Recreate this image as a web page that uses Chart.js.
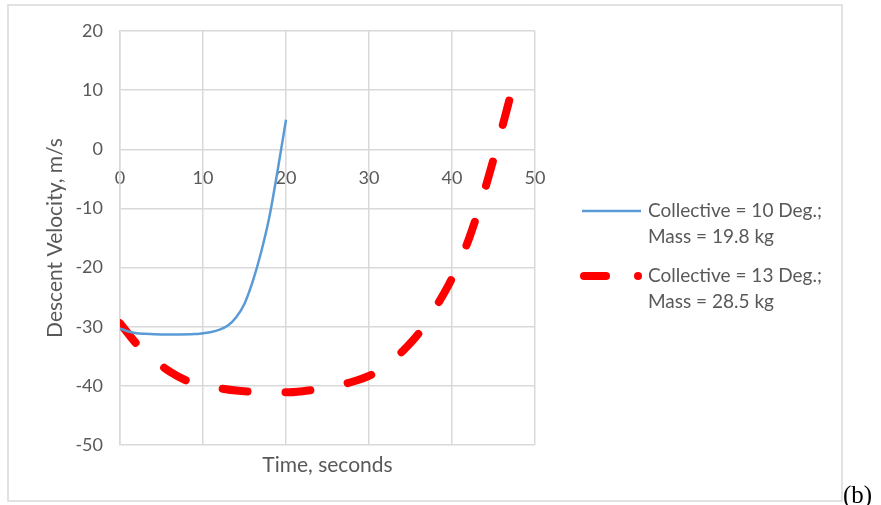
<!DOCTYPE html>
<html>
<head>
<meta charset="utf-8">
<script src="https://cdn.jsdelivr.net/npm/chart.js@4/dist/chart.umd.min.js"></script>
<style>
  html, body { margin: 0; padding: 0; background: #fff; }
  #wrap { width: 881px; height: 505px; }
</style>
</head>
<body>
<div id="wrap"><canvas id="chart" width="881" height="505"></canvas></div>
<script>
// Collective = 10 Deg.; Mass = 19.8 kg
const timeBlue = [0, 1, 2, 3, 5, 7, 9, 10, 11, 12, 13, 14, 15, 16, 17, 18, 19, 20];
const velBlue = [-30.3, -30.8, -31.1, -31.2, -31.3, -31.3, -31.25, -31.1, -30.9, -30.5, -29.8, -28.4, -26.1, -22.3, -17.4, -11.4, -3.5, 5.0];

// Collective = 13 Deg.; Mass = 28.5 kg
const timeRed = [0, 2, 4, 6, 8, 10, 12, 14, 16, 18, 20, 22, 24, 26, 28, 30, 32, 34, 36, 38, 40, 42, 44, 46, 47];
const velRed = [-29.4, -32.9, -35.5, -37.6, -39.1, -39.9, -40.4, -40.8, -41.0, -41.1, -41.1, -40.9, -40.5, -40.0, -39.3, -38.3, -36.8, -34.2, -31.1, -26.8, -21.8, -15.3, -6.6, 3.5, 8.8];

const seriesNames = [
    ['Collective = 10 Deg.;', 'Mass = 19.8 kg'],
    ['Collective = 13 Deg.;', 'Mass = 28.5 kg']
];

const xTitle = 'Time, seconds';
const yTitle = 'Descent Velocity, m/s';

const toPoints = (xs, ys) => xs.map((x, i) => ({ x: x, y: ys[i] }));

const textColor = '#595959';
const gridColor = '#d9d9d9';
const font = { family: 'Lato', size: 18 };

// titles, legend, frame and the (b) label
const extras = {
    id: 'extras',
    afterDraw(chart) {
        const ctx = chart.ctx;
        const area = chart.chartArea;
        ctx.save();

        // outer chart frame
        ctx.strokeStyle = gridColor;
        ctx.lineWidth = 1.5;
        ctx.strokeRect(8, 5, 834, 496);

        ctx.fillStyle = textColor;
        ctx.font = '21px Lato';
        ctx.textAlign = 'center';
        ctx.textBaseline = 'middle';
        ctx.fillText(xTitle, (area.left + area.right) / 2, 465);

        ctx.save();
        ctx.translate(55, (area.top + area.bottom) / 2);
        ctx.rotate(-Math.PI / 2);
        ctx.fillText(yTitle, 0, 0);
        ctx.restore();

        // legend
        const ds = chart.data.datasets;
        ctx.font = '19px Lato';
        ctx.textAlign = 'left';
        const rows = [211, 276];
        ds.forEach((d, i) => {
            const y = rows[i];
            ctx.strokeStyle = d.borderColor;
            ctx.fillStyle = d.borderColor;
            ctx.lineWidth = d.borderWidth;
            ctx.lineCap = d.borderCapStyle || 'butt';
            if (d.borderDash && d.borderDash.length) {
                ctx.beginPath();
                ctx.moveTo(584, y);
                ctx.lineTo(606, y);
                ctx.stroke();
                ctx.beginPath();
                ctx.arc(638, y, d.borderWidth / 2, 0, Math.PI * 2);
                ctx.fill();
            } else {
                ctx.beginPath();
                ctx.moveTo(582, y);
                ctx.lineTo(641, y);
                ctx.stroke();
            }
            ctx.fillStyle = textColor;
            seriesNames[i].forEach((line, j) => ctx.fillText(line, 648, y + j * 25.5));
        });

        ctx.font = '25px "Liberation Serif"';
        ctx.fillStyle = '#000';
        ctx.textBaseline = 'alphabetic';
        ctx.fillText('(b)', 843, 503);
        ctx.restore();
    }
};

new Chart(document.getElementById('chart'), {
    type: 'scatter',
    data: {
        datasets: [{
            label: seriesNames[0].join(' '),
            data: toPoints(timeBlue, velBlue),
            showLine: true,
            borderColor: '#5b9bd5',
            borderWidth: 2.5,
            pointRadius: 0,
            cubicInterpolationMode: 'monotone'
        }, {
            label: seriesNames[1].join(' '),
            data: toPoints(timeRed, velRed),
            showLine: true,
            borderColor: '#ff0000',
            borderWidth: 8,
            borderDash: [25, 38],
            borderCapStyle: 'round',
            pointRadius: 0,
            cubicInterpolationMode: 'monotone'
        }]
    },
    options: {
        responsive: false,
        animation: false,
        layout: { padding: { left: 0, top: 31, right: 346, bottom: 60 } },
        plugins: {
            legend: { display: false },
            tooltip: { enabled: false }
        },
        scales: {
            x: {
                type: 'linear',
                min: 0,
                max: 50,
                position: { y: 0 },
                ticks: { stepSize: 10, color: textColor, font: font, padding: 18 },
                grid: { color: gridColor, lineWidth: 1.5, drawTicks: false },
                border: { display: false }
            },
            y: {
                min: -50,
                max: 20,
                position: 'left',
                afterFit: (s) => { s.width = 120; },
                ticks: { stepSize: 10, color: textColor, font: font, padding: 17 },
                grid: { color: gridColor, lineWidth: 1.5, drawTicks: false },
                border: { color: gridColor, width: 1.5 }
            }
        }
    },
    plugins: [extras]
});
</script>
</body>
</html>
